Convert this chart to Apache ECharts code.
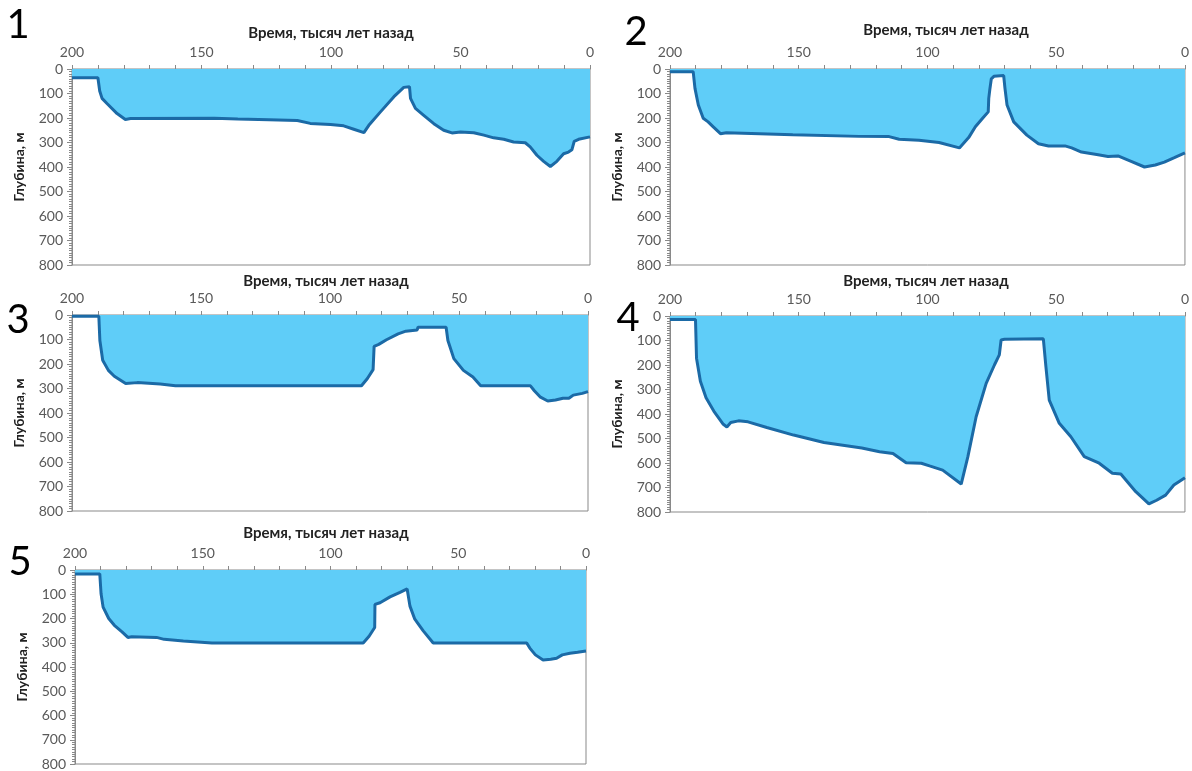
<!DOCTYPE html>
<html>
	<head>
		<meta charset="UTF-8">
		<title></title>
		<script src="https://cdn.jsdelivr.net/npm/echarts@6/dist/echarts.min.js" type="text/javascript" charset="utf-8"></script>
	</head>
	<body style="margin:0;background:#fff;">
		<div id="chart" style="width: 1192px;height: 771px;"></div>
		<script type="text/javascript">
			// время, тыс. лет назад / глубина, м
			var time1 = [200, 190, 189.3, 188.4, 186.5, 182.6, 179.4, 177.4, 145, 136, 124, 113, 108, 100.2, 95.1, 91.2, 87.3, 85.4, 80.9, 75.7, 71.9, 69.7, 69.3, 67.4, 64.2, 60.3, 56.5, 53.3, 50, 44.9, 41, 37.2, 33.3, 29.5, 25, 23.1, 20.5, 17.9, 15.3, 12.8, 10.2, 8.3, 7, 6.1, 4.4, 0];
			var depth1 = [36, 36, 90, 120, 141, 182, 206, 202, 201, 204, 207, 210, 222, 227, 232, 246, 260, 230, 175, 113, 75, 72, 120, 161, 189, 223, 250, 261, 257, 260, 270, 281, 287, 298, 301, 318, 352, 377, 398, 377, 346, 339, 330, 295, 287, 277];

			var time2 = [200, 191, 190.3, 189, 187.1, 185.2, 183.2, 180.4, 178.1, 152.3, 126.5, 114.9, 111, 103.3, 95.5, 87.6, 84, 81.4, 78.5, 76.4, 76.2, 75.8, 75.2, 74.2, 70.4, 69.9, 69.1, 66.5, 61.4, 56.9, 53, 46.6, 44, 40.2, 33.7, 29.9, 26, 20.9, 15.7, 11.5, 8, 4.1, 0];
			var depth2 = [11, 11, 79, 147, 201, 216, 236, 264, 260, 268, 275, 276, 287, 291, 300, 322, 280, 236, 200, 175, 120, 85, 40, 30, 27, 79, 147, 216, 270, 305, 314, 314, 322, 339, 350, 357, 355, 377, 400, 392, 380, 362, 342];

			var time3 = [200, 189.6, 189.2, 188.1, 185.9, 183.6, 179.2, 174.7, 165.8, 159.9, 87.8, 85.5, 83.3, 82.9, 81.1, 78.1, 73.6, 70.6, 66.2, 65.9, 55, 54.3, 52, 48.3, 44.6, 41.6, 22.3, 20.8, 18.6, 15.6, 12.6, 9.7, 7.4, 5.7, 2.2, 0];
			var depth3 = [5, 5, 104, 185, 226, 250, 280, 276, 282, 289, 289, 259, 223, 128, 120, 101, 77, 66, 61, 50, 50, 104, 178, 226, 253, 289, 289, 309, 334, 351, 347, 340, 340, 327, 320, 313];

			var time4 = [200, 190.1, 189.7, 188.2, 186, 183, 179.3, 177.9, 176.4, 173.4, 169.7, 162.4, 152, 140.2, 125.5, 118.6, 113.4, 108.3, 102.4, 99.2, 94.1, 86.9, 84.3, 81.1, 77.2, 74, 72.1, 71.4, 70.1, 55, 54, 52.7, 48.8, 44.3, 39.1, 33.3, 28.2, 24.9, 19.1, 14, 11, 7.5, 4.3, 0];
			var depth4 = [14, 14, 172, 266, 334, 388, 442, 453, 435, 428, 432, 455, 486, 516, 539, 554, 561, 599, 601, 612, 629, 686, 574, 411, 275, 200, 159, 98, 95, 93, 207, 343, 438, 493, 574, 601, 642, 645, 717, 767, 752, 731, 690, 660];

			var time5 = [200, 190.3, 189.8, 189, 186.8, 184.6, 181.6, 179.3, 177.8, 168.1, 165.1, 157.6, 146.4, 87.2, 84.9, 82.7, 82.6, 80.6, 76.7, 72.8, 70, 68.9, 67, 63.7, 59.8, 23.2, 22, 19.8, 16.8, 13.8, 11.5, 9.3, 6.3, 3.3, 0];
			var depth5 = [16, 16, 98, 153, 200, 228, 255, 278, 275, 278, 286, 293, 301, 301, 273, 237, 142, 135, 111, 92, 78, 149, 203, 251, 301, 301, 322, 350, 371, 368, 364, 350, 343, 339, 334];

			var xTicks = [200, 150, 100, 50, 0];
			var yTicks = [0, 100, 200, 300, 400, 500, 600, 700, 800];
			var xTitle = 'Время, тысяч лет назад';
			var yTitle = 'Глубина, м';
			var panelNames = ['1', '2', '3', '4', '5'];

			var times = [time1, time2, time3, time4, time5];
			var depths = [depth1, depth2, depth3, depth4, depth5];

			var grids = [
				{left: 72, top: 69, width: 518, height: 196},
				{left: 670, top: 69, width: 517, height: 196},
				{left: 72, top: 315, width: 516, height: 196},
				{left: 670, top: 316, width: 516, height: 196},
				{left: 75, top: 570, width: 511, height: 197}
			];
			var titlePos = [[331, 33], [946, 30], [326, 281], [926, 281], [326, 533]];
			var numPos = [[18, 25], [636, 32], [18, 320], [628, 318], [20, 562]];

			var axisColor = '#898989';
			var labelColor = '#595959';
			var font = 'Lato, "Open Sans", sans-serif';

			var xAxes = [], yAxes = [], series = [], graphics = [];
			grids.forEach((g, i) => {
				xAxes.push({
					gridIndex: i,
					type: 'value',
					position: 'top',
					inverse: true,
					min: 0,
					max: 200,
					interval: 50,
					axisLine: {onZero: false, lineStyle: {color: axisColor, width: 1}},
					axisTick: {length: 4, lineStyle: {color: axisColor}},
					minorTick: {show: true, splitNumber: 5, length: 4, lineStyle: {color: axisColor}},
					splitLine: {show: false},
					axisLabel: {
						color: labelColor, fontSize: 14, fontFamily: font, margin: 10,
						formatter: v => xTicks.indexOf(v) > -1 ? String(v) : ''
					}
				});
				yAxes.push({
					gridIndex: i,
					type: 'value',
					position: 'left',
					inverse: true,
					min: 0,
					max: 800,
					interval: 100,
					name: yTitle,
					nameLocation: 'middle',
					nameGap: 46,
					nameRotate: 90,
					nameTextStyle: {color: '#222', fontSize: 14, fontWeight: 'bold', fontFamily: font},
					axisLine: {show: true, onZero: false, lineStyle: {color: axisColor, width: 1}},
					axisTick: {show: true, length: 5, lineStyle: {color: axisColor}},
					minorTick: {show: true, splitNumber: 10, length: 3, lineStyle: {color: axisColor}},
					splitLine: {show: false},
					axisLabel: {
						color: labelColor, fontSize: 14, fontFamily: font, margin: 9,
						formatter: v => yTicks.indexOf(v) > -1 ? String(v) : ''
					}
				});
				series.push({
					type: 'line',
					xAxisIndex: i,
					yAxisIndex: i,
					data: times[i].map((t, j) => [t, depths[i][j]]),
					showSymbol: false,
					symbol: 'none',
					animation: false,
					lineStyle: {color: '#1b6aa6', width: 3},
					areaStyle: {color: '#5fcdf8', opacity: 1}
				});
				graphics.push({
					type: 'text',
					x: titlePos[i][0],
					y: titlePos[i][1],
					style: {
						text: xTitle, fill: '#222', textAlign: 'center', textVerticalAlign: 'middle',
						font: 'bold 15px ' + font
					}
				});
				graphics.push({
					type: 'text',
					x: numPos[i][0],
					y: numPos[i][1],
					style: {
						text: panelNames[i], fill: '#000', textAlign: 'center', textVerticalAlign: 'middle',
						font: '40px ' + font
					}
				});
			});

			var chart = echarts.init(document.getElementById('chart'));
			var option = {
				backgroundColor: '#fff',
				animation: false,
				grid: grids.map(g => Object.assign({show: true, borderColor: axisColor, borderWidth: 1, backgroundColor: 'transparent'}, g)),
				xAxis: xAxes,
				yAxis: yAxes,
				series: series,
				graphic: graphics
			};
			chart.setOption(option, true);
		</script>
	</body>
</html>
